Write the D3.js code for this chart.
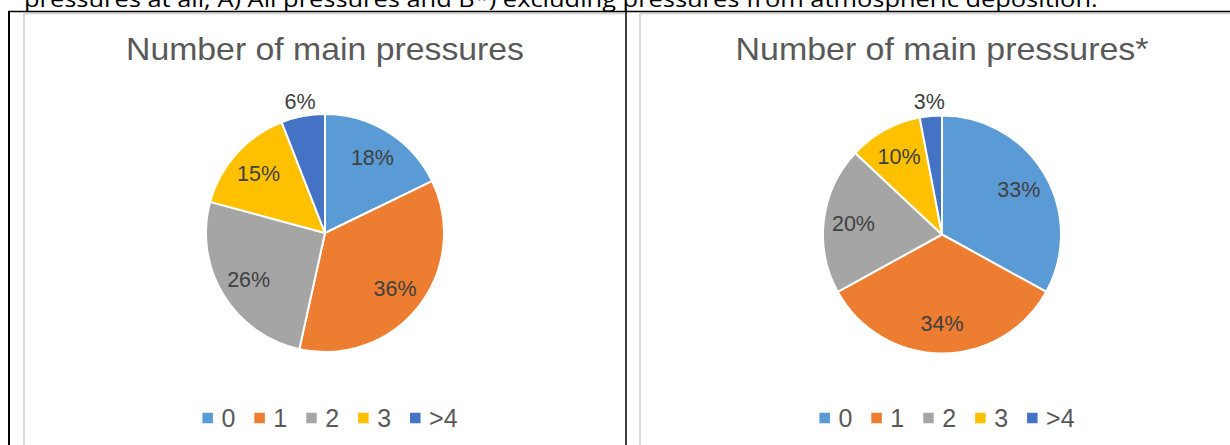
<!DOCTYPE html>
<html>
<head>
<meta charset="utf-8">
<script src="https://cdn.jsdelivr.net/npm/d3@7"></script>
<style>
  html, body { margin: 0; padding: 0; background: #fff; }
  svg { display: block; }
</style>
</head>
<body>
<svg id="chart" width="1230" height="445"></svg>
<script>
// ---- data ----
const categories = ["0", "1", "2", "3", ">4"];
const valuesA = [18, 36, 26, 15, 6];   // All pressures (%)
const valuesB = [33, 34, 20, 10, 3];   // Excluding atmospheric deposition (%)
const titleA = "Number of main pressures";
const titleB = "Number of main pressures*";
const caption = "pressures at all; A) All pressures and B*) excluding pressures from atmospheric deposition.";
const colors = ["#5B9BD5", "#ED7D31", "#A5A5A5", "#FFC000", "#4472C4"];

const svg = d3.select("#chart");
svg.append("rect").attr("width", 1230).attr("height", 445).attr("fill", "#fff");

// caption (cut off at top, as in the document)
const cap = svg.append("text")
  .attr("x", 24).attr("y", 6.5)
  .attr("font-family", "'Open Sans', 'Liberation Sans', sans-serif")
  .attr("font-size", 22)
  .attr("fill", "#000")
  .text(caption);
{
  const prefixLen = caption.indexOf("atmosp") + 6;
  const wPrefix = cap.node().getSubStringLength(0, prefixLen);
  const wFull = cap.node().getComputedTextLength();
  cap.attr("textLength", wFull * (876 / wPrefix)).attr("lengthAdjust", "spacingAndGlyphs");
}

// chart frames (light gray)
const frame = svg.append("g").attr("stroke", "#d9d9d9").attr("stroke-width", 2).attr("fill", "none");
frame.append("line").attr("x1", 24).attr("x2", 24).attr("y1", 13).attr("y2", 445);
frame.append("line").attr("x1", 24).attr("x2", 625).attr("y1", 13.5).attr("y2", 13.5);
frame.append("line").attr("x1", 640).attr("x2", 640).attr("y1", 13).attr("y2", 445);
frame.append("line").attr("x1", 640).attr("x2", 1230).attr("y1", 13.5).attr("y2", 13.5);

// table lines (black)
const tbl = svg.append("g").attr("stroke", "#000").attr("fill", "none");
tbl.append("line").attr("x1", 8).attr("x2", 1230).attr("y1", 11.5).attr("y2", 11.5).attr("stroke-width", 1.6);
tbl.append("line").attr("x1", 9).attr("x2", 9).attr("y1", 11).attr("y2", 445).attr("stroke-width", 2);
tbl.append("line").attr("x1", 626).attr("x2", 626).attr("y1", 11).attr("y2", 445).attr("stroke-width", 1.5);

function drawChart(cx, cy, title, values, titleWidth) {
  const R = 119;
  const g = svg.append("g");
  const data = categories.map((c, i) => ({ cat: c, value: values[i], i }));
  const pie = d3.pie().value(d => d.value).sort(null);
  const arcs = pie(data);
  const arc = d3.arc().innerRadius(0).outerRadius(R);
  const labelArc = d3.arc().innerRadius(R * 0.75).outerRadius(R * 0.75);
  const outArc = d3.arc().innerRadius(R + 15).outerRadius(R + 15);

  g.append("text")
    .attr("x", cx).attr("y", 60)
    .attr("text-anchor", "middle")
    .attr("font-family", "'Liberation Sans', Arial, sans-serif")
    .attr("font-size", 32)
    .attr("fill", "#595959")
    .attr("textLength", titleWidth).attr("lengthAdjust", "spacingAndGlyphs")
    .text(title);

  const pg = g.append("g").attr("transform", `translate(${cx},${cy})`);
  pg.selectAll("path").data(arcs).join("path")
    .attr("d", arc)
    .attr("fill", d => colors[d.data.i])
    .attr("stroke", "#fff").attr("stroke-width", 2).attr("stroke-linejoin", "round");

  pg.selectAll("text.lbl").data(arcs).join("text")
    .attr("class", "lbl")
    .attr("transform", d => {
      const frac = (d.endAngle - d.startAngle) / (2 * Math.PI);
      const p = frac < 0.08 ? outArc.centroid(d) : labelArc.centroid(d);
      return `translate(${p[0]},${p[1]})`;
    })
    .attr("text-anchor", "middle")
    .attr("dy", "0.35em")
    .attr("font-family", "'Liberation Sans', Arial, sans-serif")
    .attr("font-size", 21.5)
    .attr("fill", "#404040")
    .text(d => d.data.value + "%");

  // legend
  const fs = 25, ms = 10.5, gap = 8.5, after = 19;
  const lg = g.append("g");
  const items = [];
  let x = 0;
  data.forEach(d => {
    const t = lg.append("text")
      .attr("font-family", "'Liberation Sans', Arial, sans-serif")
      .attr("font-size", fs).attr("fill", "#595959")
      .attr("y", 426.5)
      .text(d.cat);
    const w = t.node().getComputedTextLength();
    const r = lg.append("rect").attr("width", ms).attr("height", ms)
      .attr("y", 418 - ms / 2).attr("fill", colors[d.i]);
    items.push({ t, r, x, w });
    x += ms + gap + w + after;
  });
  const total = x - after;
  const x0 = cx + 5 - total / 2;
  items.forEach(it => {
    it.r.attr("x", x0 + it.x);
    it.t.attr("x", x0 + it.x + ms + gap);
  });
}

drawChart(325, 233, titleA, valuesA, 398);
drawChart(942, 234.5, titleB, valuesB, 413);
</script>
</body>
</html>
